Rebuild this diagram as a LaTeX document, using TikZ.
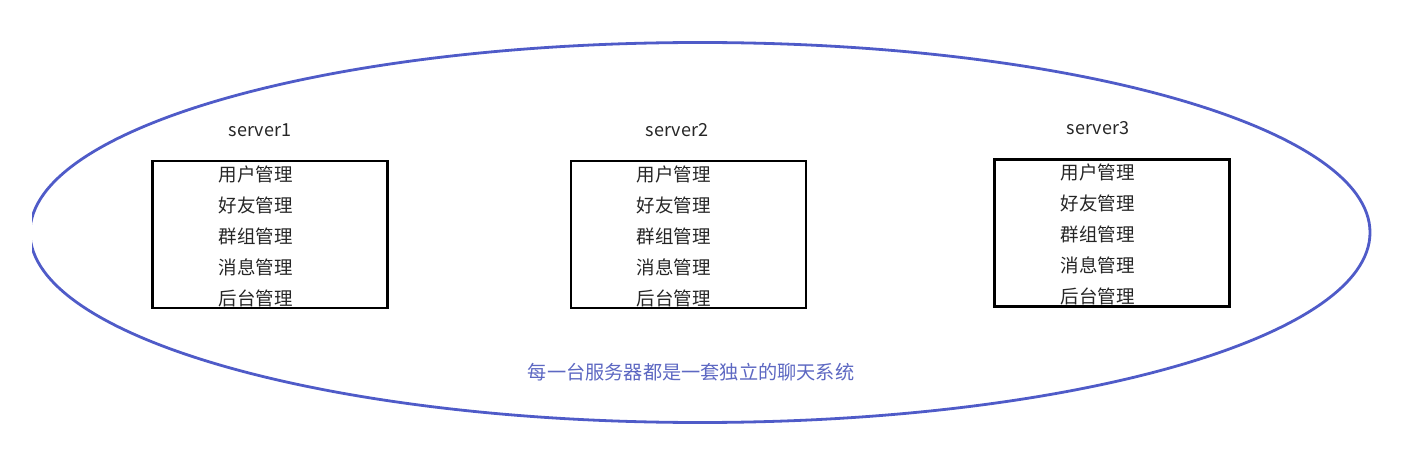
\documentclass[tikz,border=0pt]{standalone}
\usepackage{fontspec}
\setmainfont{Noto Sans CJK SC}
\definecolor{ringblue}{HTML}{4F5BC8}
\definecolor{noteblue}{HTML}{5D68C2}
\definecolor{txt}{HTML}{262626}
\begin{document}
\begin{tikzpicture}[x=1pt,y=-1pt,
  srvbox/.style={draw=black,line width=2.5pt,minimum width=235pt,minimum height=147pt,inner sep=0pt},
  item/.style={text=txt,font=\fontsize{18.5}{18.5}\selectfont,inner sep=0pt,anchor=center},
  srvlabel/.style={text=txt,font=\fontsize{18}{18}\selectfont,inner sep=0pt,anchor=center},
  note/.style={text=noteblue,font=\fontsize{19.2}{19.2}\selectfont,inner sep=0pt,anchor=center}]
\useasboundingbox (0,0) rectangle (1420,454);
\begin{scope}
\clip (32,0) rectangle (1420,454);
\draw[ringblue,line width=2.8pt] (700,232.5) ellipse [x radius=670, y radius=190];
\end{scope}
% boxes
\node[srvbox] (b1) at (270,234.5) {};
\node[srvbox] (b2) at (688.5,234.5) {};
\node[srvbox] (b3) at (1112,233) {};
% labels
\node[srvlabel] (l1) at (260,130) {server1};
\node[srvlabel] (l2) at (677,130) {server2};
\node[srvlabel] (l3) at (1098,128) {server3};
% items
\foreach \n/\cx/\dy in {1/255.5/0, 2/673.5/0, 3/1097.5/-2}{
  \node[item] (u\n) at (\cx,174+\dy) {用户管理};
  \node[item] (f\n) at (\cx,205+\dy) {好友管理};
  \node[item] (g\n) at (\cx,236+\dy) {群组管理};
  \node[item] (m\n) at (\cx,267+\dy) {消息管理};
  \node[item] (h\n) at (\cx,298+\dy) {后台管理};
}
\node[note] (note) at (691,372) {每一台服务器都是一套独立的聊天系统};
\end{tikzpicture}
\end{document}
